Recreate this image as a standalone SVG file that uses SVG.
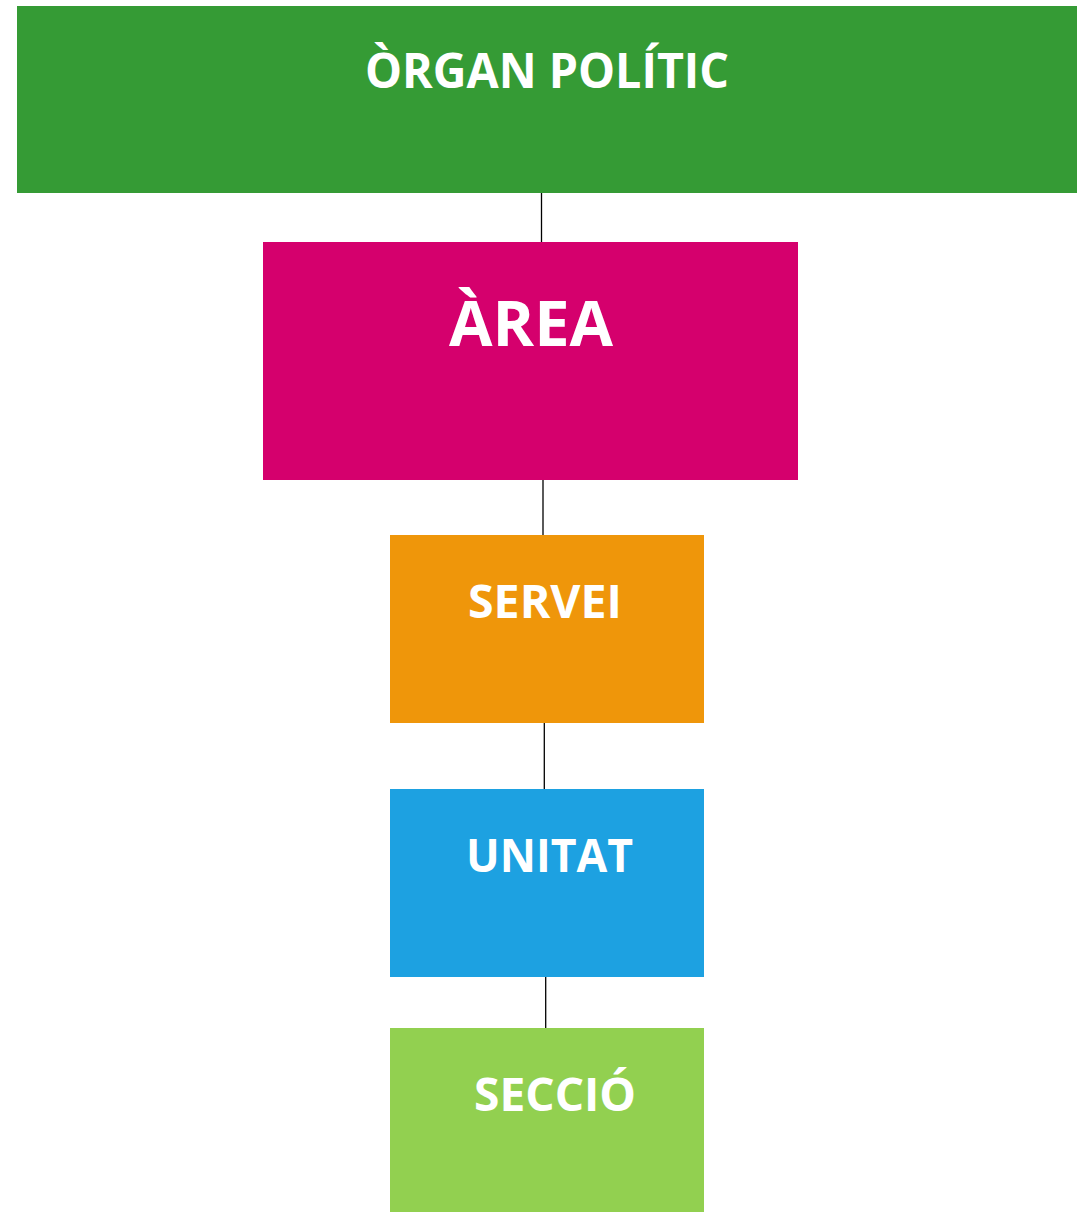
<svg xmlns="http://www.w3.org/2000/svg" width="1079" height="1212" viewBox="0 0 1079 1212">
<style>
.lbl{font-family:"Open Sans","Noto Sans","Liberation Sans",sans-serif;font-weight:bold;fill:#ffffff;text-anchor:middle}
.conn{stroke:#000000;stroke-width:1.3;fill:none}
</style>
<rect x="0" y="0" width="1079" height="1212" fill="#ffffff"/>
<g id="connectors">
<line class="conn" x1="541.5" y1="193" x2="541.5" y2="242"/>
<line class="conn" x1="543" y1="480" x2="543" y2="535"/>
<line class="conn" x1="544.3" y1="723" x2="544.3" y2="789"/>
<line class="conn" x1="545.7" y1="977" x2="545.7" y2="1028"/>
</g>
<g id="organ-politic">
<rect x="17" y="6" width="1060" height="187" fill="#359B35"/>
<text class="lbl" x="547" y="88" font-size="48" textLength="364" lengthAdjust="spacingAndGlyphs">ÒRGAN POLÍTIC</text>
</g>
<g id="area">
<rect x="263" y="242" width="535" height="238" fill="#D5006D"/>
<text class="lbl" x="531" y="346" font-size="62" textLength="164" lengthAdjust="spacingAndGlyphs">ÀREA</text>
</g>
<g id="servei">
<rect x="390" y="535" width="314" height="188" fill="#EF960A"/>
<text class="lbl" x="545" y="618" font-size="46" textLength="154" lengthAdjust="spacingAndGlyphs">SERVEI</text>
</g>
<g id="unitat">
<rect x="390" y="789" width="314" height="188" fill="#1DA1E1"/>
<text class="lbl" x="549.5" y="872" font-size="47" textLength="167" lengthAdjust="spacingAndGlyphs">UNITAT</text>
</g>
<g id="seccio">
<rect x="390" y="1028" width="314" height="184" fill="#92D050"/>
<text class="lbl" x="555" y="1111" font-size="46" textLength="162" lengthAdjust="spacingAndGlyphs">SECCIÓ</text>
</g>
</svg>
